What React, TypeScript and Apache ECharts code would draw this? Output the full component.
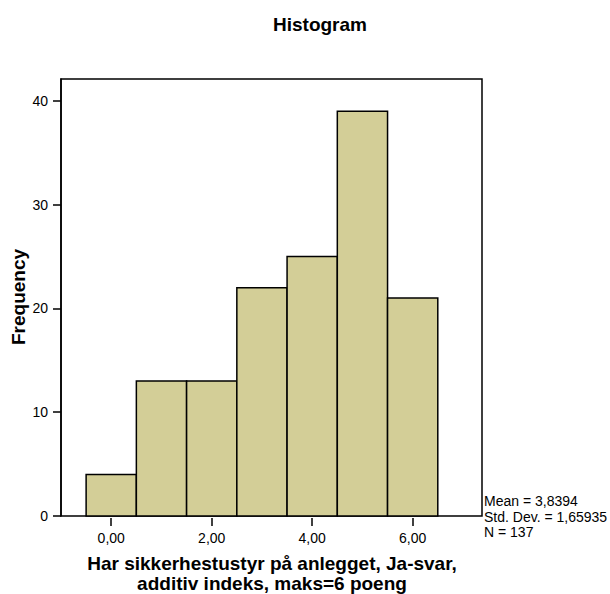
import React, { useEffect, useRef } from "react";
import * as echarts from "echarts";

const binCenters = [0, 1, 2, 3, 4, 5, 6];
const frequencies = [4, 13, 13, 22, 25, 39, 21];
const xTickValues = [0, 2, 4, 6];
const yTickLabels = [0, 10, 20, 30, 40];
const statsLines = ["Mean = 3,8394", "Std. Dev. = 1,65935", "N = 137"];
const xNameLines = ["Har sikkerhestustyr på anlegget, Ja-svar,", "additiv indeks, maks=6 poeng"];

export default function App() {
  const ref = useRef<HTMLDivElement>(null);
  useEffect(() => {
    if (!ref.current) return;
    const chart = echarts.init(ref.current, null, { renderer: "svg" });
    const font = "'Liberation Sans', Arial, sans-serif";
    chart.setOption({
      animation: false,
      backgroundColor: "#ffffff",
      textStyle: { fontFamily: font },
      grid: {
        left: 61,
        top: 79,
        right: 128,
        bottom: 78,
        show: true,
        borderColor: "#000",
        borderWidth: 1.5,
        backgroundColor: "transparent",
      },
      xAxis: {
        type: "value",
        min: -1,
        max: 7.38,
        offset: 2,
        axisLine: { show: false, onZero: false },
        splitLine: { show: false },
        axisTick: {
          show: true,
          length: 8,
          customValues: xTickValues,
          lineStyle: { color: "#000", width: 1.5 },
        },
        axisLabel: {
          customValues: xTickValues,
          formatter: (v: number) => v.toFixed(2).replace(".", ","),
          color: "#000",
          fontSize: 14,
          margin: 13,
          fontFamily: font,
        },
      },
      yAxis: {
        type: "value",
        position: "left",
        min: 0,
        max: 42.1,
        interval: 10,
        axisLine: { show: true, onZero: false, lineStyle: { color: "#000", width: 1.5 } },
        splitLine: { show: false },
        axisTick: {
          show: true,
          length: 8,
          customValues: yTickLabels,
          lineStyle: { color: "#000", width: 1.5 },
        },
        axisLabel: {
          customValues: yTickLabels,
          color: "#000",
          fontSize: 14,
          margin: 13,
          fontFamily: font,
        },
      },
      graphic: [
        {
          type: "text",
          x: 320,
          y: 24,
          style: {
            text: "Histogram",
            fontFamily: font,
            fontSize: 19,
            fontWeight: "bold",
            fill: "#000",
            textAlign: "center",
            textVerticalAlign: "middle",
          },
        },
        {
          type: "text",
          x: 18,
          y: 297,
          rotation: Math.PI / 2,
          style: {
            text: "Frequency",
            fontFamily: font,
            fontSize: 19,
            fontWeight: "bold",
            fill: "#000",
            textAlign: "center",
            textVerticalAlign: "middle",
          },
        },
        {
          type: "text",
          x: 272,
          y: 563,
          style: {
            text: xNameLines[0],
            fontFamily: font,
            fontSize: 19,
            fontWeight: "bold",
            fill: "#000",
            textAlign: "center",
            textVerticalAlign: "middle",
          },
        },
        {
          type: "text",
          x: 272,
          y: 583,
          style: {
            text: xNameLines[1],
            fontFamily: font,
            fontSize: 19,
            fontWeight: "bold",
            fill: "#000",
            textAlign: "center",
            textVerticalAlign: "middle",
          },
        },
        ...statsLines.map((t, i) => ({
          type: "text",
          x: 484,
          y: 501 + i * 15.5,
          style: {
            text: t,
            fontFamily: font,
            fontSize: 14,
            fill: "#000",
            textAlign: "left",
            textVerticalAlign: "middle",
          },
        })),
      ],
      series: [
        {
          type: "custom",
          data: binCenters.map((c, i) => [c, frequencies[i]]),
          renderItem: (params: any, api: any) => {
            const x = api.value(0);
            const y = api.value(1);
            const p0 = api.coord([x - 0.5, y]);
            const p1 = api.coord([x + 0.5, 0]);
            return {
              type: "rect",
              shape: { x: p0[0], y: p0[1], width: p1[0] - p0[0], height: p1[1] - p0[1] },
              style: { fill: "#D3CE97", stroke: "#000", lineWidth: 1.5 },
            };
          },
        },
      ],
    });
    return () => chart.dispose();
  }, []);
  return (
    <div
      ref={ref}
      style={{ position: "fixed", left: 0, top: 0, width: 610, height: 594 }}
    />
  );
}
